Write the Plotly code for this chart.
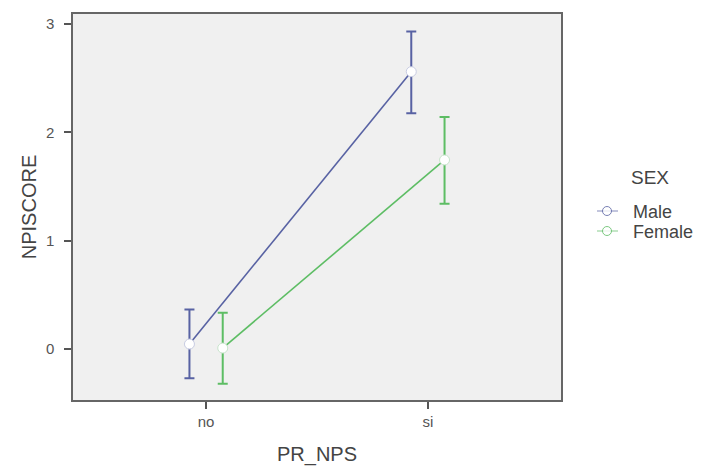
import plotly.graph_objects as go

categories = ["no", "si"]
series_names = ["Male", "Female"]
male_mean = [0.046, 2.56]
male_upper = [0.366, 2.93]
male_lower = [-0.27, 2.176]
female_mean = [0.009, 1.745]
female_upper = [0.335, 2.142]
female_lower = [-0.32, 1.342]
colors = ["#5862a3", "#5dbd64"]
outline = ["#c8cce2", "#c8e4cc"]
dodge = [-0.075, 0.075]

fig = go.Figure()
data = [
    (male_mean, male_upper, male_lower),
    (female_mean, female_upper, female_lower),
]
for k, (name, (mean, up, lo)) in enumerate(zip(series_names, data)):
    xs = [i + dodge[k] for i in range(len(categories))]
    fig.add_trace(go.Scatter(
        x=xs, y=mean, name=name, mode="lines+markers", showlegend=False,
        line=dict(color=colors[k], width=1.6),
        marker=dict(symbol="circle", size=10, color="white",
                    line=dict(color=outline[k], width=1)),
        error_y=dict(type="data", symmetric=False,
                     array=[u - m for u, m in zip(up, mean)],
                     arrayminus=[m - l for m, l in zip(mean, lo)],
                     color=colors[k], thickness=2, width=5),
    ))

# manual legend (layout, paper coords)
L, R, T, B = 73, 561, 14, 400
W, H = 707, 469
def px(xp):
    return (xp - L) / (R - L)
def py(yp):
    return (B - yp) / (B - T)

annotations = [dict(text="SEX", x=px(650), y=py(178), xref="paper", yref="paper",
                    showarrow=False, font=dict(size=19, color="#444"),
                    xanchor="center", yanchor="middle")]
shapes = []
leg_y = [211, 231]
for k, name in enumerate(series_names):
    annotations.append(dict(text=name, x=px(631), y=py(leg_y[k] + 1), xref="paper", yref="paper",
                            showarrow=False, font=dict(size=18, color="#444"),
                            xanchor="left", yanchor="middle"))
    shapes.append(dict(type="line", xref="paper", yref="paper",
                       x0=px(597), x1=px(618), y0=py(leg_y[k]), y1=py(leg_y[k]),
                       line=dict(color=colors[k], width=1.2), opacity=0.6))
    shapes.append(dict(type="circle", xref="paper", yref="paper",
                       x0=px(602.5), x1=px(611.5), y0=py(leg_y[k] - 4.5), y1=py(leg_y[k] + 4.5),
                       fillcolor="white", line=dict(color=colors[k], width=1), opacity=0.8))

fig.update_layout(
    width=W, height=H,
    margin=dict(l=L, r=W - R, t=T, b=H - B),
    paper_bgcolor="white", plot_bgcolor="#f0f0f0",
    font=dict(family="Liberation Sans, Arial, sans-serif", color="#444"),
    showlegend=False,
    annotations=annotations, shapes=shapes,
    xaxis=dict(
        range=[-0.6, 1.6], tickmode="array", tickvals=list(range(len(categories))),
        ticktext=categories, showgrid=False, zeroline=False, automargin=False,
        showline=True, mirror=True, linecolor="#666", linewidth=1.5,
        ticks="outside", ticklen=7, tickcolor="#555", tickwidth=2,
        tickfont=dict(size=15, color="#555"),
        title=dict(text="PR_NPS", font=dict(size=20, color="#444"), standoff=18),
    ),
    yaxis=dict(
        range=[-0.47, 3.092], tickmode="array", tickvals=[0, 1, 2, 3],
        ticklabelstandoff=7, automargin=False,
        showgrid=False, zeroline=False,
        showline=True, mirror=True, linecolor="#666", linewidth=1.5,
        ticks="outside", ticklen=7, tickcolor="#555", tickwidth=2,
        tickfont=dict(size=15, color="#555"),
        title=dict(text="NPISCORE", font=dict(size=20, color="#444"), standoff=4),
    ),
)

fig.write_html("out.html")
